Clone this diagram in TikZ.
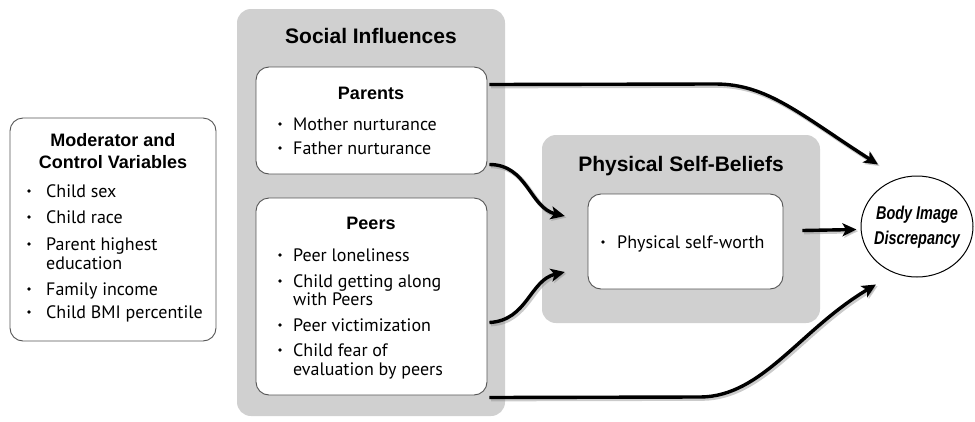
\documentclass[tikz,border=0pt]{standalone}
\usepackage{fontspec}
\usepackage{graphicx}
\usetikzlibrary{arrows.meta,calc,shapes.geometric}
\setmainfont{Liberation Sans}
\newfontfamily\itemfont{PT Sans}
\definecolor{panel}{RGB}{208,208,208}
\definecolor{edge}{RGB}{85,85,85}
\tikzset{
  graybox/.style={fill=panel, draw=none, rounded corners=14pt, inner sep=0pt},
  whitebox/.style={fill=white, draw=edge, line width=0.9pt, rounded corners=13pt, inner sep=0pt},
  titletext/.style={font=\bfseries\fontsize{21}{23}\selectfont, anchor=base, inner sep=0pt},
  subtitle/.style={font=\bfseries\fontsize{18}{20}\selectfont, anchor=base, inner sep=0pt},
  itemtext/.style={font=\itemfont\fontsize{18}{20}\selectfont, anchor=base west, inner sep=0pt},
  bulletdot/.style={circle, fill=black, inner sep=0pt, minimum size=3.6pt},
  conn/.style={line width=3.4pt, -{Stealth[length=14pt,width=13pt,inset=3.5pt]},
    preaction={draw=black!45, opacity=0.45, line width=4.5pt, transform canvas={xshift=1.6pt,yshift=-1.6pt}}},
  ovalnode/.style={ellipse, draw=black, line width=1pt, fill=white, minimum width=112pt, minimum height=101pt, inner sep=0pt},
  ovaltext/.style={font=\bfseries\itshape\fontsize{18.5}{20}\selectfont, anchor=base, inner sep=0pt}
}
\begin{document}
\begin{tikzpicture}[x=1pt,y=-1pt]
\useasboundingbox (0,0) rectangle (975,421);
% boxes
\node[graybox, minimum width=268pt, minimum height=407pt] (social) at (371,212.5) {};
\node[whitebox, minimum width=231pt, minimum height=107pt] (parents) at (371.5,120.5) {};
\node[whitebox, minimum width=231pt, minimum height=197pt] (peers) at (371.5,296.5) {};
\node[whitebox, minimum width=206pt, minimum height=223pt] (modbox) at (113,229.5) {};
\node[graybox, minimum width=278pt, minimum height=188pt] (psb) at (681,229) {};
\node[whitebox, minimum width=195pt, minimum height=95pt] (inner) at (685.5,241.5) {};
\node[ovalnode] (bid) at (917,226.5) {};
% titles
\node[titletext] (tsoc) at (371,43) {Social Influences};
\node[subtitle] (tpar) at (371,99) {Parents};
\node[subtitle] (tpeer) at (371,229) {Peers};
\node[titletext] (tpsb) at (681,171) {Physical Self-Beliefs};
\node[subtitle] (tmod1) at (113,146) {Moderator and};
\node[subtitle] (tmod2) at (113,168) {Control Variables};
\node[ovaltext] (bid1) at (917,219) {\scalebox{0.78}[1]{Body Image}};
\node[ovaltext] (bid2) at (917,244) {\scalebox{0.78}[1]{Discrepancy}};
% parents items
\node[bulletdot] (pb1) at (280,124) {};
\node[itemtext] (pi1) at (293,130) {Mother nurturance};
\node[bulletdot] (pb2) at (280,148) {};
\node[itemtext] (pi2) at (293,154) {Father nurturance};
% peers items
\node[bulletdot] (qb1) at (280,255) {};
\node[itemtext] (qi1) at (293,261) {Peer loneliness};
\node[bulletdot] (qb2) at (280,281) {};
\node[itemtext] (qi2) at (293,287) {Child getting along};
\node[itemtext] (qi2b) at (293,305) {with Peers};
\node[bulletdot] (qb3) at (280,325) {};
\node[itemtext] (qi3) at (293,331) {Peer victimization};
\node[bulletdot] (qb4) at (280,350) {};
\node[itemtext] (qi4) at (293,356) {Child fear of};
\node[itemtext] (qi4b) at (293,375) {evaluation by peers};
% moderator items
\node[bulletdot] (mb1) at (29,191) {};
\node[itemtext] (mi1) at (46,197) {Child sex};
\node[bulletdot] (mb2) at (29,217) {};
\node[itemtext] (mi2) at (46,223) {Child race};
\node[bulletdot] (mb3) at (29,244) {};
\node[itemtext] (mi3) at (46,250) {Parent highest};
\node[itemtext] (mi3b) at (46,269) {education};
\node[bulletdot] (mb4) at (29,289) {};
\node[itemtext] (mi4) at (46,295) {Family income};
\node[bulletdot] (mb5) at (29,312) {};
\node[itemtext] (mi5) at (46,318) {Child BMI percentile};
% physical self-worth
\node[bulletdot] (sb1) at (603,242) {};
\node[itemtext] (si1) at (617,248) {Physical self-worth};
% connectors
\draw[conn] ($(parents.east)+(2,-36)$) -- ($(parents.east)+(228,-36.5)$)
  .. controls ($(parents.east)+(280,-36.5)$) and ($(bid.center)+(-117,-112)$) .. ($(bid.center)+(-39,-62)$);
\draw[conn] ($(parents.east)+(2,44)$) .. controls ($(parents.east)+(40,44)$) and ($(psb.west)+(-12,-21)$) .. ($(psb.west)+(23,-13)$);
\draw[conn] ($(peers.east)+(2,26)$) .. controls ($(peers.east)+(40,24)$) and ($(psb.west)+(-12,51)$) .. ($(psb.west)+(23,43)$);
\draw[conn] ($(inner.east)+(19,-11)$) -- ($(bid.west)+(-4,3)$);
\draw[conn] ($(peers.east)+(2,101)$) -- ($(peers.east)+(213,100.5)$)
  .. controls ($(peers.east)+(275,100)$) and ($(bid.center)+(-117,103)$) .. ($(bid.center)+(-41,58)$);
\end{tikzpicture}
\end{document}
